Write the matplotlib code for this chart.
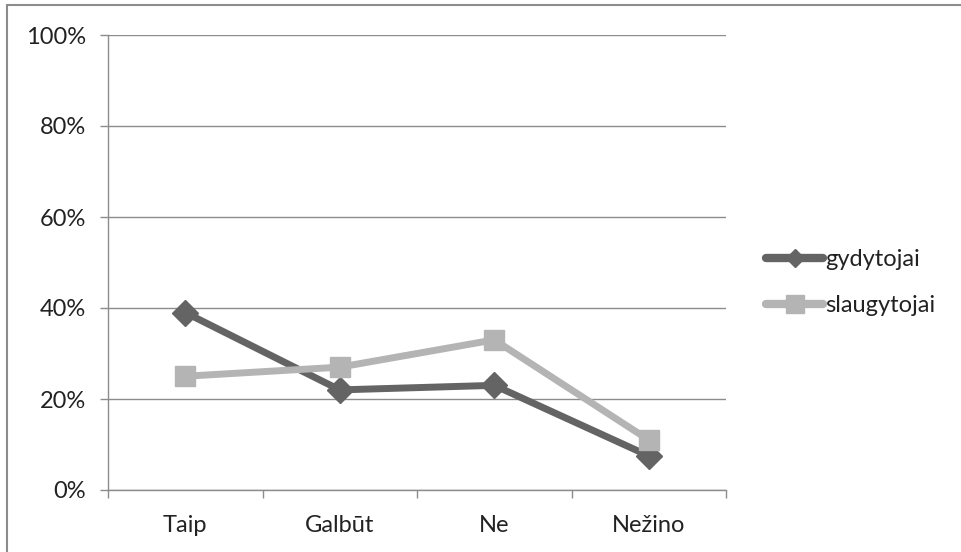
import matplotlib.pyplot as plt
from matplotlib.lines import Line2D
from matplotlib.patches import Rectangle

plt.rcParams['font.family'] = ['Lato', 'DejaVu Sans']

categories = ['Taip', 'Galbūt', 'Ne', 'Nežino']
gydytojai = [39, 22, 23, 7.5]
slaugytojai = [25, 27, 33, 11]
y_ticks = [0, 20, 40, 60, 80, 100]

dark = '#646464'
light = '#b4b4b4'
axis_grey = '#8c8c8c'

fig = plt.figure(figsize=(9.62, 5.52), dpi=100)
ax = fig.add_axes([108 / 962, 1 - 490 / 552, 618 / 962, 455 / 552])

x = range(len(categories))
ax.plot(x, gydytojai, color=dark, lw=5, marker='D', ms=13, mfc=dark, mec=dark,
        label='gydytojai', zorder=3)
ax.plot(x, slaugytojai, color=light, lw=5, marker='s', ms=15, mfc=light, mec=light,
        label='slaugytojai', zorder=3)

ax.set_xlim(-0.5, len(categories) - 0.5)
ax.set_ylim(0, 100)
ax.set_yticks(y_ticks)
ax.set_yticklabels([f'{v}%' for v in y_ticks])
ax.yaxis.grid(True, color=axis_grey, lw=1)
ax.set_axisbelow(True)

# category labels at centres, tick marks at boundaries
ax.set_xticks(list(x))
ax.set_xticklabels(categories)
ax.tick_params(axis='x', length=0, pad=18, labelsize=17, colors='#222222')
ax.set_xticks([i - 0.5 for i in range(len(categories) + 1)], minor=True)
ax.tick_params(axis='x', which='minor', length=6, color=axis_grey, width=1)
ax.tick_params(axis='y', length=6, color=axis_grey, width=1, pad=10,
               labelsize=17, labelcolor='#222222')

for side in ['top', 'right']:
    ax.spines[side].set_visible(False)
for side in ['left', 'bottom']:
    ax.spines[side].set_color(axis_grey)
    ax.spines[side].set_linewidth(1)

handles = [
    Line2D([], [], color=dark, lw=6, marker='D', ms=9, mfc=dark, mec=dark,
           solid_capstyle='round'),
    Line2D([], [], color=light, lw=6, marker='s', ms=13, mfc=light, mec=light,
           solid_capstyle='round'),
]
fig.legend(handles, ['gydytojai', 'slaugytojai'], loc='upper left',
           bbox_to_anchor=(745 / 962, 1 - 228 / 552), frameon=False,
           fontsize=17, handlelength=2.4, handletextpad=0.1, labelspacing=1.05,
           labelcolor='#222222')

# outer chart frame
fig.patches.append(Rectangle((7 / 962, -0.01), 2, 1 - 5 / 552 + 0.01,
                             transform=fig.transFigure, fill=False,
                             edgecolor='#8c8c8c', lw=1.5))

fig.savefig('out.png', dpi=100)
